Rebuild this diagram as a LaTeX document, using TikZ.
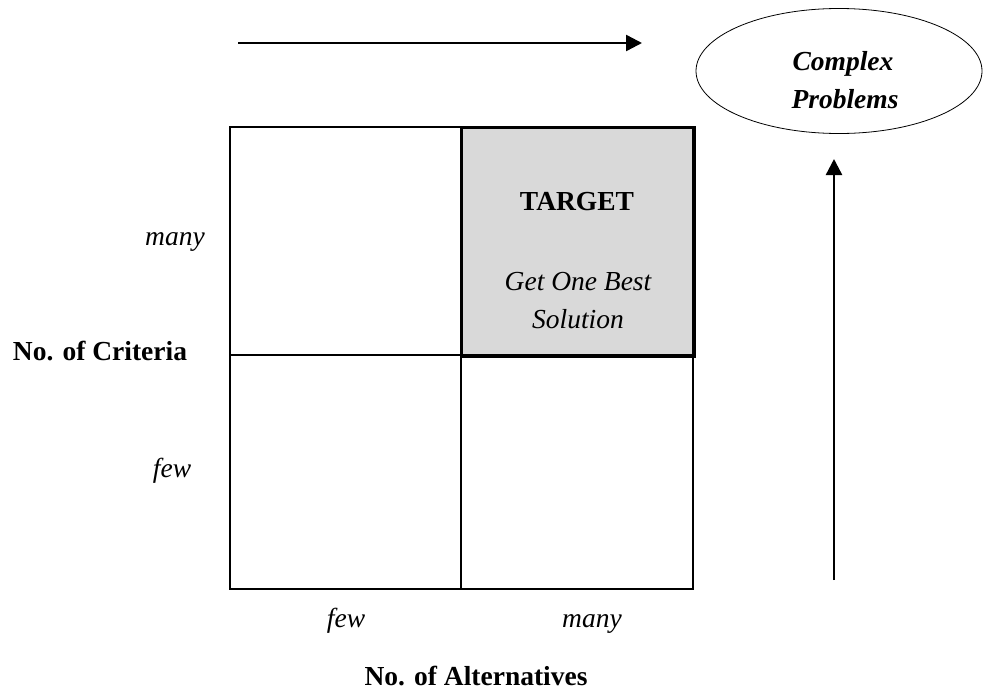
\documentclass[tikz,border=0pt]{standalone}
\usepackage{fontspec}
\setmainfont{Liberation Serif}
\usetikzlibrary{arrows.meta,shapes.geometric}
\begin{document}
\begin{tikzpicture}[x=1pt,y=-1pt,
  every node/.style={inner sep=0pt, anchor=base},
  txt/.style={font=\fontsize{27.5}{38}\selectfont},
  lbl/.style={txt, font=\fontsize{27.5}{38}\selectfont\itshape},
  head/.style={txt, font=\fontsize{27.5}{38}\selectfont\bfseries},
  headit/.style={txt, font=\fontsize{27.5}{38}\selectfont\bfseries\itshape},
  cellline/.style={line width=1.3pt},
  bigarrow/.style={line width=2.4pt, -{Triangle[length=16pt,width=16pt]}}]
\useasboundingbox (0,0) rectangle (984,691);

% highlighted cell
\node[draw, line width=2pt, fill=black!15, minimum width=232pt, minimum height=228pt,
      anchor=north west] (target) at (461,127) {};

% 2x2 grid
\draw[cellline] (230,127) rectangle (693,589);
\draw[cellline] (461,127) -- (461,589);
\draw[cellline] (230,355) -- (693,355);
\draw[line width=2pt] (target.north west) rectangle (target.south east);

% texts in the highlighted cell
\node[head] (tt) at (577,210) {TARGET};
\node[lbl] (sol1) at (578,290) {Get One Best};
\node[lbl] (sol2) at (578,328) {Solution};

% axis labels
\node[lbl] (ymany) at (175,245) {many};
\node[head] (ylab) at (100,360) {No. of Criteria};
\node[lbl] (yfew) at (172,477) {few};
\node[lbl] (xfew) at (346,627) {few};
\node[lbl] (xmany) at (592,627) {many};
\node[head] (xlab) at (476,685) {No. of Alternatives};

% complex problems
\node[draw, ellipse, line width=0.8pt, minimum width=286pt, minimum height=125pt, anchor=center] (cp) at (839,71) {};
\node[headit] (cp1) at (843,70) {Complex};
\node[headit] (cp2) at (845,108) {Problems};

% direction arrows
\coordinate (ha) at (238,43);
\coordinate (hb) at (642,43);
\coordinate (va) at (834,580);
\coordinate (vb) at (834,159);
\draw[bigarrow] (ha) -- (hb);
\draw[bigarrow] (va) -- (vb);
\end{tikzpicture}
\end{document}
